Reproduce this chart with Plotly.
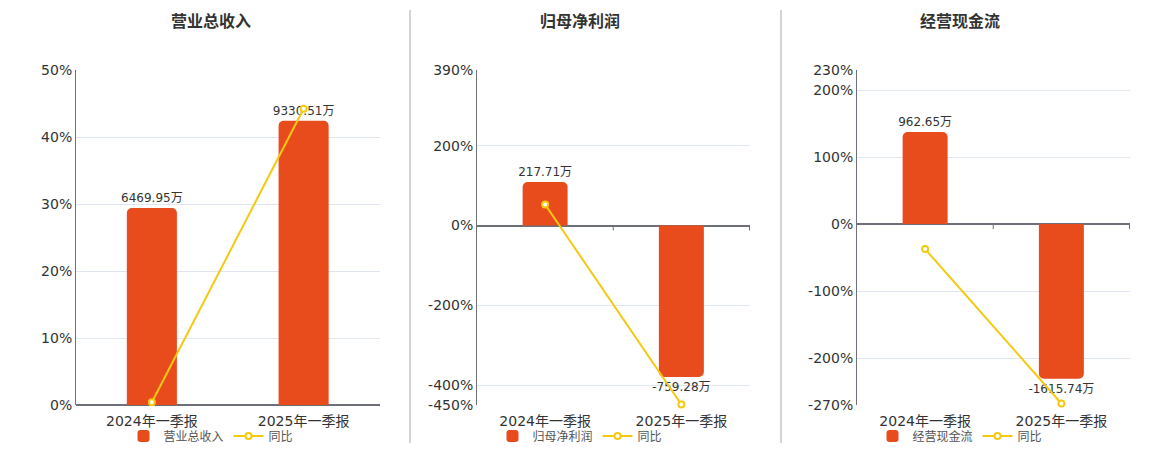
import plotly.graph_objects as go

# data
periods = ["2024年一季报", "2025年一季报"]
titles = ["营业总收入", "归母净利润", "经营现金流"]
amounts_revenue = [6469.95, 9330.51]      # 万
amounts_profit = [217.71, -759.28]
amounts_cashflow = [962.65, -1615.74]
yoy_revenue = [0.4, 44.21]                # %
yoy_profit = [52.9, -448.8]
yoy_cashflow = [-37.3, -267.8]
pct_ticks_revenue = [0, 10, 20, 30, 40, 50]
pct_ticks_profit = [-450, -400, -200, 0, 200, 390]
pct_ticks_cashflow = [-270, -200, -100, 0, 100, 200, 230]

BAR_COLOR = "#E84C1D"
LINE_COLOR = "#F5C90F"
AXIS_COLOR = "#6E7079"
GRID_COLOR = "#E0E6F1"
TEXT_COLOR = "#333333"
FONT = "DejaVu Sans, Noto Sans CJK SC, sans-serif"

panels = [
    dict(title=titles[0], amounts=amounts_revenue, yoy=yoy_revenue, ticks=pct_ticks_revenue,
         pct_range=[0, 50], bar_range=[0, 11000], xdom=[76, 380], center=211),
    dict(title=titles[1], amounts=amounts_profit, yoy=yoy_profit, ticks=pct_ticks_profit,
         pct_range=[-450, 390], bar_range=[-900, 780], xdom=[477, 750], center=580),
    dict(title=titles[2], amounts=amounts_cashflow, yoy=yoy_cashflow, ticks=pct_ticks_cashflow,
         pct_range=[-270, 230], bar_range=[-1890, 1610], xdom=[857, 1130], center=960),
]

W, H = 1160, 450
ydom = [1 - 405 / H, 1 - 70 / H]

fig = go.Figure()
layout = dict(
    width=W, height=H, margin=dict(l=0, r=0, t=0, b=0, autoexpand=False),
    paper_bgcolor="white", plot_bgcolor="white",
    font=dict(family=FONT, color=TEXT_COLOR, size=13),
    barcornerradius=5, showlegend=True,
)
shapes = []
annotations = []

for i, p in enumerate(panels):
    n = i + 1
    xname = "x" if n == 1 else f"x{n}"
    ybar = "y" if n == 1 else f"y{2 * n - 1}"
    ypct = f"y{2 * n}"
    leg = "legend" if n == 1 else f"legend{n}"

    fig.add_trace(go.Bar(
        x=periods, y=p["amounts"], name=p["title"], xaxis=xname, yaxis=ybar,
        marker=dict(color=BAR_COLOR, line=dict(width=0)), width=0.33,
        text=[f"{v}万" for v in p["amounts"]], textposition="outside",
        constraintext="none",
        textfont=dict(size=12, color=TEXT_COLOR), cliponaxis=False,
        legend=leg, hoverinfo="skip",
    ))
    fig.add_trace(go.Scatter(
        x=periods, y=p["yoy"], name="同比", mode="lines+markers", xaxis=xname, yaxis=ypct,
        line=dict(color=LINE_COLOR, width=2),
        marker=dict(symbol="circle", size=6, color="white", line=dict(color=LINE_COLOR, width=2)),
        cliponaxis=False, legend=leg, hoverinfo="skip",
    ))

    xk = "xaxis" if n == 1 else f"xaxis{n}"
    ybk = "yaxis" if n == 1 else f"yaxis{2 * n - 1}"
    ypk = f"yaxis{2 * n}"
    layout[xk] = dict(
        domain=[p["xdom"][0] / W, p["xdom"][1] / W], anchor=ybar,
        type="category", showgrid=False, showline=False, ticks="",
        tickfont=dict(size=14, color=TEXT_COLOR), ticklabelstandoff=6, fixedrange=True,
    )
    layout[ybk] = dict(
        domain=ydom, anchor=xname, range=p["bar_range"], visible=False, fixedrange=True,
    )
    layout[ypk] = dict(
        overlaying=ybar, anchor=xname, side="left", range=p["pct_range"],
        tickvals=p["ticks"], ticktext=[f"{t}%" for t in p["ticks"]],
        showgrid=True, gridcolor=GRID_COLOR, gridwidth=1,
        zeroline=True, zerolinecolor=AXIS_COLOR, zerolinewidth=2,
        showline=True, linecolor=AXIS_COLOR, linewidth=1, ticks="",
        tickfont=dict(size=14, color=TEXT_COLOR), fixedrange=True,
    )
    layout[leg] = dict(
        orientation="h", x=p["center"] / W, xanchor="center", y=1 - 436 / H, yanchor="middle",
        font=dict(size=12, color="#555555"), bgcolor="rgba(0,0,0,0)",
        itemwidth=30, tracegroupgap=0,
    )
    # category boundary ticks on the zero line
    for xb in [0.5, 1.5]:
        shapes.append(dict(type="line", xref=xname, yref=ypct, x0=xb, x1=xb,
                           ysizemode="pixel", yanchor=0, y0=0, y1=-5,
                           line=dict(color=AXIS_COLOR, width=1)))
    annotations.append(dict(
        text=f"<b>{p['title']}</b>", xref="paper", yref="paper",
        x=p["center"] / W, y=1 - 22 / H,
        showarrow=False, font=dict(size=16, color=TEXT_COLOR), xanchor="center", yanchor="middle",
    ))

for xs in [410, 781]:
    shapes.append(dict(type="line", xref="paper", yref="paper",
                       x0=xs / W, x1=xs / W, y0=1 - 10 / H, y1=1 - 443 / H,
                       line=dict(color="#AAAAAA", width=1)))

layout["shapes"] = shapes
layout["annotations"] = annotations
fig.update_layout(**layout)

# page body has a default 8px margin, drop it so the figure sits at (0, 0)
fig.write_html("out.html", config={"displayModeBar": False},
               post_script="document.body.style.margin='0';")
